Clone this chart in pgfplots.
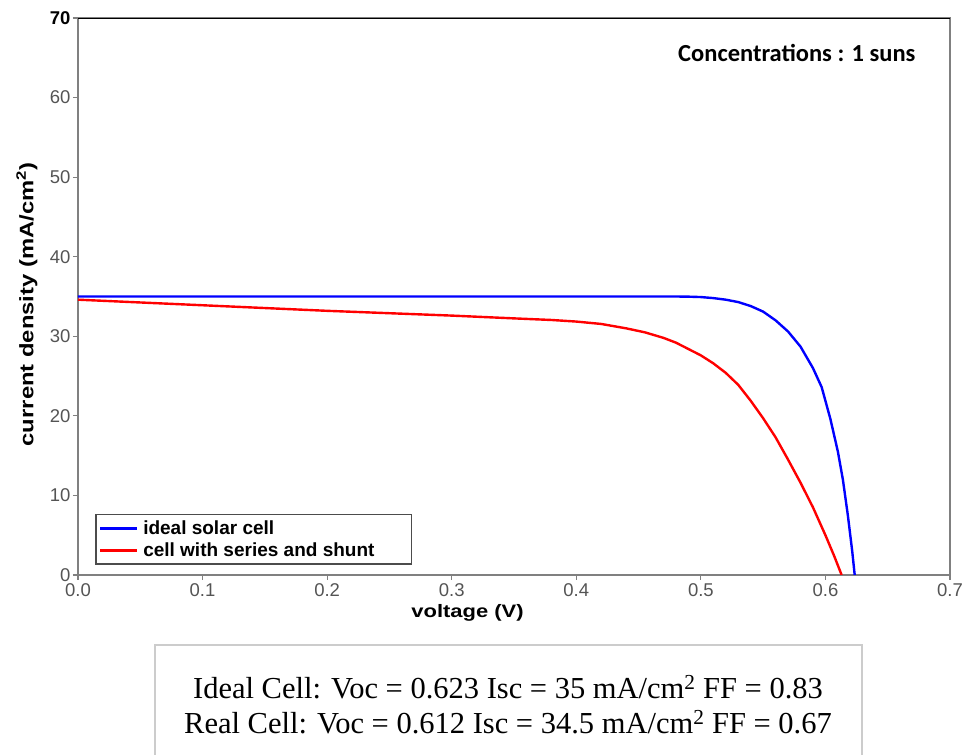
\documentclass[border=0pt]{standalone}
\usepackage{pgfplots}
\pgfplotsset{compat=1.18}
\usepackage{fontspec}
\setmainfont{Liberation Sans}
\newfontfamily\lblfont[FakeStretch=1.22]{Liberation Sans}
\newfontfamily\calfont{Carlito}
\newfontfamily\serfont{Liberation Serif}
\definecolor{tickgray}{gray}{0.33}
\definecolor{axgray}{gray}{0.5}

\begin{document}
\begin{tikzpicture}
\useasboundingbox (-78pt,-180pt) rectangle (889pt,575pt);
\begin{axis}[
  at={(0pt,0pt)}, anchor=south west,
  scale only axis, width=872pt, height=557pt,
  xmin=0, xmax=0.7, ymin=0, ymax=70,
  xtick={0,0.1,...,0.7},
  xticklabels={0.0,0.1,0.2,0.3,0.4,0.5,0.6,0.7},
  ytick={0,10,...,70},
  yticklabels={0,10,20,30,40,50,60,{\textcolor{black}{\bfseries 70}}},
  tick align=outside, xtick pos=bottom, ytick pos=left,
  major tick length=5pt,
  tick style={axgray, line width=1.2pt},
  axis line style={axgray, line width=1.6pt},
  tick label style={font=\fontsize{18.5}{20}\selectfont, text=tickgray},
  yticklabel style={xshift=1pt},
  /pgf/number format/assume math mode=true,
  xlabel={\lblfont\bfseries voltage (V)},
  ylabel={\lblfont\bfseries current density (mA/cm\textsuperscript{2})},
  every axis x label/.style={at={(axis description cs:0.4467,-0.068)}, anchor=center, font=\fontsize{18}{20}\selectfont},
  every axis y label/.style={at={(axis description cs:-0.0585,0.4856)}, anchor=center, rotate=90, font=\fontsize{19.5}{22}\selectfont},
  legend style={at={(axis description cs:0.0195,0.018)}, anchor=south west,
    draw=black!70, line width=1.5pt, font=\fontsize{19}{23}\selectfont\bfseries,
    inner xsep=3pt, inner ysep=4pt, row sep=3pt,
    /tikz/every odd column/.style={column sep=3pt}},
  legend cell align=left,
  legend image code/.code={\draw[line width=2.5pt] (0pt,0pt) -- (37pt,0pt);},
]
\addplot[blue, line width=2.4pt] coordinates {
(0.000,35.0) (0.100,35.0) (0.200,35.0) (0.300,35.0) (0.400,35.0) (0.480,35.0)
(0.490,34.98) (0.500,34.93) (0.510,34.8) (0.520,34.6) (0.530,34.3)
(0.540,33.8) (0.550,33.1) (0.560,32.0) (0.570,30.6) (0.580,28.7)
(0.590,26.0) (0.597,23.6) (0.604,19.6) (0.610,15.5) (0.614,12.0)
(0.618,7.5) (0.6215,3.0) (0.6235,0.0)
};
\addlegendentry{\makebox[263pt][l]{ideal solar cell}}
\addplot[red, line width=2.4pt] coordinates {
(0.000,34.6) (0.050,34.25) (0.100,33.9) (0.150,33.55) (0.200,33.2)
(0.250,32.9) (0.300,32.6) (0.350,32.25) (0.380,32.05) (0.400,31.85)
(0.420,31.55) (0.440,31.0) (0.455,30.5) (0.470,29.8) (0.480,29.2)
(0.490,28.4) (0.500,27.6) (0.510,26.6) (0.520,25.4) (0.530,23.9)
(0.540,21.9) (0.550,19.7) (0.560,17.3) (0.570,14.5) (0.580,11.6)
(0.590,8.5) (0.600,5.0) (0.607,2.4) (0.613,0.0)
};
\addlegendentry{\makebox[263pt][l]{cell with series and shunt}}
\draw[black, line width=2.6pt] (rel axis cs:0,1) -- (rel axis cs:1,1);
\end{axis}
\node[anchor=east, font=\calfont\bfseries\fontsize{24.5}{28}\selectfont] at (841pt,522pt) {Concentrations : 1 suns};
\draw[gray!40, line width=1.2pt] (77pt,-185pt) -- (77pt,-70pt) -- (784pt,-70pt) -- (784pt,-185pt);
\node[font=\serfont\fontsize{30.5}{34}\selectfont] at (430pt,-112pt) {Ideal Cell: Voc = 0.623 Isc = 35 mA/cm\textsuperscript{2} FF = 0.83};
\node[font=\serfont\fontsize{30.5}{34}\selectfont] at (430pt,-147pt) {Real Cell: Voc = 0.612 Isc = 34.5 mA/cm\textsuperscript{2} FF = 0.67};
\end{tikzpicture}
\end{document}
